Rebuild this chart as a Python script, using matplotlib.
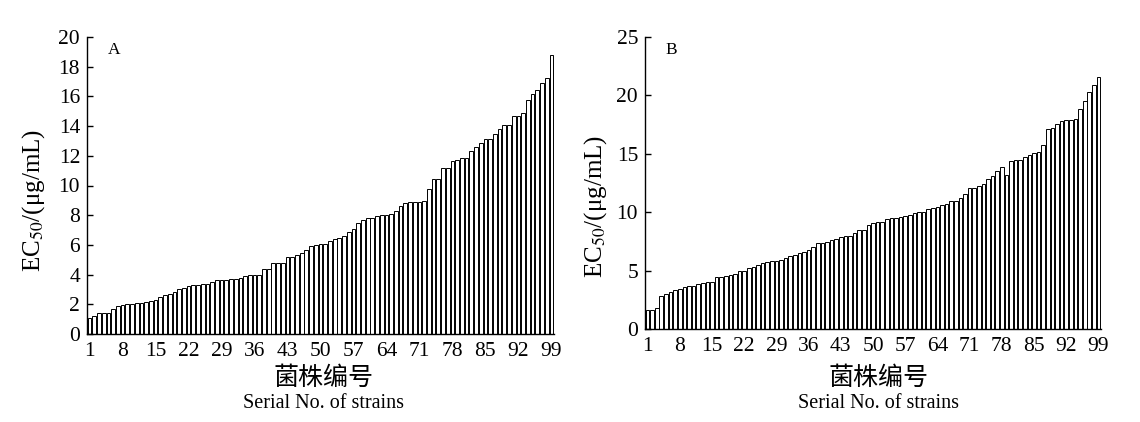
import matplotlib
matplotlib.use("Agg")
import matplotlib.pyplot as plt
import numpy as np

# ---- data ----
strains = list(range(1, 100))
xtick_labels = list(range(1, 100, 7))

ec50_A = [1.1, 1.2, 1.4, 1.4, 1.4, 1.7, 1.87, 1.98, 2.05, 2.05,
          2.07, 2.1, 2.13, 2.2, 2.3, 2.5, 2.6, 2.7, 2.85, 3.0,
          3.07, 3.2, 3.27, 3.33, 3.38, 3.38, 3.47, 3.64, 3.64, 3.64,
          3.73, 3.73, 3.8, 3.9, 3.98, 4.0, 4.0, 4.4, 4.4, 4.77,
          4.8, 4.8, 5.17, 5.2, 5.3, 5.48, 5.68, 5.93, 6.0, 6.06,
          6.08, 6.26, 6.4, 6.49, 6.62, 6.9, 7.09, 7.47, 7.7, 7.83,
          7.83, 7.92, 7.99, 8.03, 8.08, 8.28, 8.6, 8.8, 8.86, 8.9,
          8.9, 8.95, 9.75, 10.47, 10.47, 11.19, 11.19, 11.63, 11.72, 11.83,
          11.83, 12.3, 12.62, 12.86, 13.1, 13.1, 13.49, 13.8, 14.1, 14.1,
          14.65, 14.65, 14.85, 15.77, 16.15, 16.4, 16.9, 17.27, 18.8]

ec50_B = [1.63, 1.63, 1.83, 2.8, 2.97, 3.17, 3.34, 3.46, 3.6, 3.66,
          3.71, 3.89, 3.94, 4.0, 4.06, 4.46, 4.49, 4.54, 4.6, 4.69,
          4.97, 4.97, 5.2, 5.34, 5.5, 5.69, 5.74, 5.8, 5.86, 5.89,
          6.06, 6.28, 6.36, 6.48, 6.56, 6.74, 7.05, 7.33, 7.36, 7.45,
          7.62, 7.73, 7.9, 7.93, 7.93, 8.19, 8.45, 8.45, 8.88, 9.05,
          9.13, 9.19, 9.45, 9.5, 9.5, 9.62, 9.65, 9.73, 9.96, 10.02,
          10.05, 10.27, 10.36, 10.45, 10.59, 10.7, 10.96, 11.0, 11.24, 11.6,
          12.04, 12.04, 12.24, 12.39, 12.84, 13.1, 13.56, 13.9, 13.18, 14.41,
          14.47, 14.47, 14.75, 14.87, 15.04, 15.18, 15.75, 17.15, 17.21, 17.55,
          17.84, 17.87, 17.87, 17.95, 18.86, 19.49, 20.32, 20.92, 21.6]

yticks_A = list(range(0, 21, 2))
yticks_B = list(range(0, 26, 5))

# ---- style ----
plt.rcParams['font.family'] = ['Liberation Serif', 'DejaVu Serif']
plt.rcParams['mathtext.fontset'] = 'stix'

W, H = 1140, 422
fig = plt.figure(figsize=(W / 100, H / 100), dpi=100)

def px_axes(l, r, b, t):
    return [l / W, 1 - b / H, (r - l) / W, (b - t) / H]

axA = fig.add_axes(px_axes(87, 554, 334, 37))
axB = fig.add_axes(px_axes(645, 1101, 329, 37))

def draw(ax, vals, yticks, ymax, letter, ylab_x, ylab_y):
    ax.bar(strains, vals, width=0.8, color='white', edgecolor='black',
           linewidth=0.7)
    ax.set_xlim(0.45, 99.55)
    ax.set_ylim(0, ymax)
    ax.set_yticks(yticks)
    ax.set_xticks(xtick_labels)
    ax.set_xticklabels([str(v) for v in xtick_labels])
    for s in ['top', 'right']:
        ax.spines[s].set_visible(False)
    for s in ['left', 'bottom']:
        ax.spines[s].set_linewidth(1.0)
    ax.tick_params(axis='y', direction='in', length=4, width=1.0,
                   labelsize=15.5, pad=5)
    ax.tick_params(axis='x', length=0, labelsize=15.5, pad=6)
    ax.set_ylabel('EC$_{50}$/(μg/mL)', fontsize=18)
    ax.yaxis.set_label_coords(ylab_x, ylab_y)
    ax.text(0.045, 0.955, letter, transform=ax.transAxes, fontsize=12.5,
            ha='left', va='center')

draw(axA, ec50_A, yticks_A, 20, 'A', -0.085, 0.45)
draw(axB, ec50_B, yticks_B, 25, 'B', -0.078, 0.42)

for cx in [(87 + 554) / 2 + 3, (645 + 1101) / 2 + 6]:
    fig.text(cx / W, 1 - 378 / H, '菌株编号', ha='center', va='center',
             fontsize=18,
             family=['Noto Sans CJK SC', 'DejaVu Sans'])
    fig.text(cx / W, 1 - 404 / H, 'Serial No. of strains', ha='center',
             va='center', fontsize=14.5)

fig.savefig('out.png', dpi=100)
